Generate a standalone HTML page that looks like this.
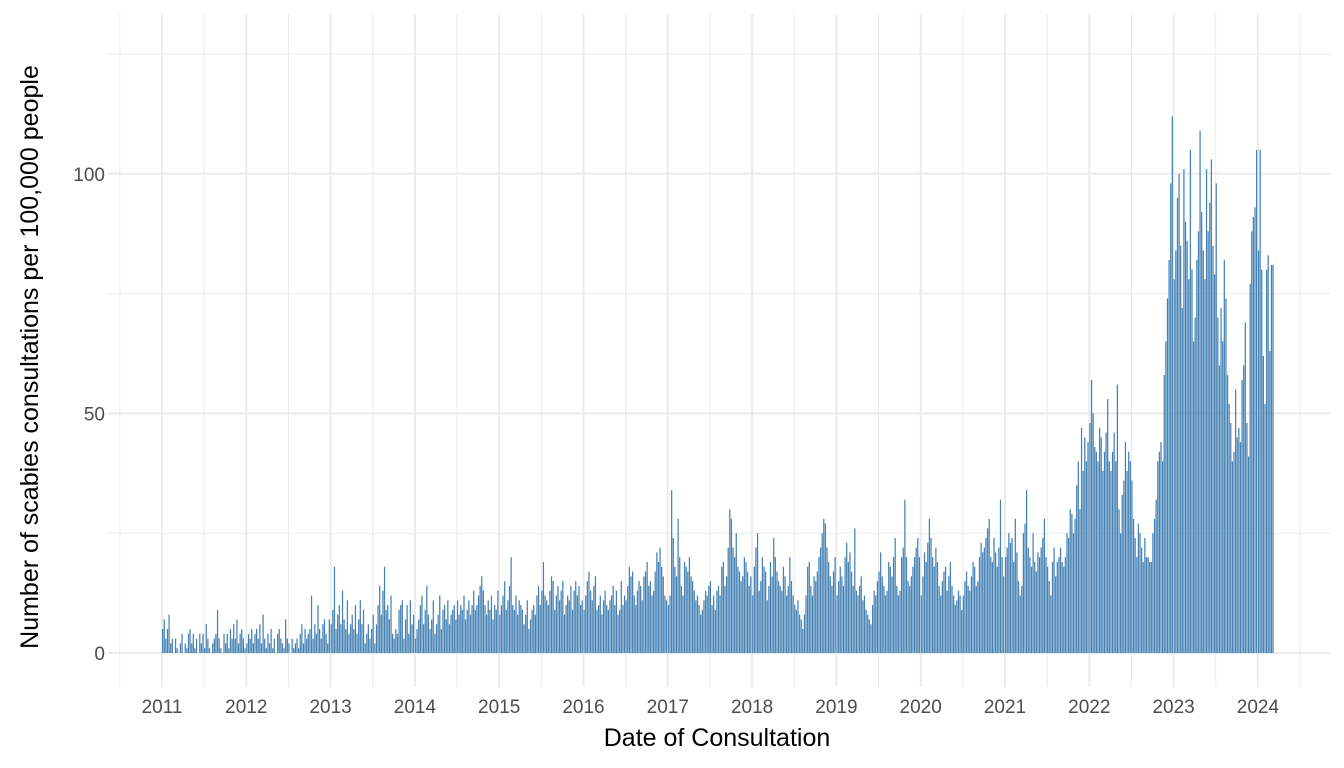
<!DOCTYPE html>
<html><head><meta charset="utf-8"><style>
html,body{margin:0;padding:0;background:#fff;}
svg{display:block;font-family:"Liberation Sans","DejaVu Sans",sans-serif;}
</style></head><body>
<svg id="chart" width="1344" height="768" viewBox="0 0 1344 768" xmlns="http://www.w3.org/2000/svg">
<g id="grid"></g>
<g id="bars"></g>
<g id="axes"></g>
<text x="717" y="746" font-size="25" text-anchor="middle" fill="#000">Date of Consultation</text>
<text transform="translate(38,357) rotate(-90)" font-size="25" text-anchor="middle" fill="#000">Number of scabies consultations per 100,000 people</text>
</svg>
<script>
const years = [2011,2012,2013,2014,2015,2016,2017,2018,2019,2020,2021,2022,2023,2024];
const yTicks = [0,50,100];
const yMinor = [25,75,125];
const v2011 = [5,7,3,5,8,2,3,0,3,1,0,2,4,0,2,1,4,5,2,4,1,3,0,4,2,4,1,6,3,1,0,2,3,4,9,3,1,0,4,2,4,1,5,3,6,3,7,2,4,5,3,1];
const v2012 = [2,4,3,5,2,4,5,3,6,2,8,3,1,4,2,5,1,3,0,4,5,3,2,1,7,3,2,0,3,1,2,3,1,4,6,2,5,3,4,5,12,3,6,4,10,5,3,6,7,4,2,7];
const v2013 = [6,9,18,5,8,10,6,13,7,5,11,4,6,8,5,10,4,7,11,6,9,2,4,6,3,5,8,2,6,10,14,8,13,18,9,10,7,12,4,3,5,4,9,10,11,3,7,10,4,11,6,8];
const v2014 = [3,5,7,10,12,6,9,14,8,5,7,11,4,6,8,12,5,9,10,7,11,6,8,9,10,7,11,8,10,9,12,7,9,11,8,10,13,9,10,12,14,16,13,10,8,11,9,12,7,10,9,13];
const v2015 = [8,10,12,15,9,11,14,20,10,9,12,8,11,10,9,6,8,11,5,7,9,10,8,12,14,10,13,19,12,11,10,13,16,15,9,12,14,11,13,15,8,10,12,11,14,9,13,15,12,14,10,11];
const v2016 = [9,12,15,17,13,11,14,16,9,10,12,8,11,13,10,9,11,12,14,10,13,8,9,15,10,12,11,14,18,16,17,12,10,13,15,14,11,16,17,19,14,15,12,13,17,21,19,22,18,16,12,11];
const v2017 = [10,12,34,24,18,16,28,20,14,12,19,18,17,20,16,15,13,11,12,10,8,9,11,13,12,14,15,10,12,9,13,14,12,18,19,14,16,22,30,28,22,20,25,18,17,15,16,20,19,17,14,16];
const v2018 = [12,18,22,25,13,15,20,18,17,11,14,19,16,24,20,17,15,14,13,18,16,12,14,20,15,12,10,9,11,8,7,5,8,12,18,19,14,12,16,15,17,20,22,25,28,27,22,19,16,14,17,20];
const v2019 = [12,15,18,16,14,20,23,19,21,17,14,26,13,12,14,16,11,12,9,8,7,6,10,13,12,15,17,21,16,14,12,13,19,18,16,20,24,14,12,13,20,22,32,20,15,14,16,18,20,22,24,20];
const v2020 = [12,16,21,19,23,28,24,20,18,22,19,14,12,15,17,18,13,16,19,14,12,10,11,13,12,9,12,15,17,14,13,16,19,18,14,15,20,23,21,22,24,26,28,20,19,24,21,18,22,32,20,16];
const v2021 = [20,22,25,23,24,19,28,21,15,12,14,25,27,34,22,20,18,25,19,17,21,20,22,24,28,20,18,15,12,19,22,16,19,20,22,19,18,20,25,24,30,29,25,28,35,40,30,47,38,45,40,44];
const v2022 = [48,57,50,43,42,40,47,45,38,42,46,53,40,38,42,46,40,56,30,25,33,36,44,38,42,40,36,28,24,20,27,25,22,19,24,20,20,19,19,25,28,32,40,42,44,40,58,65,74,82,98,112];
const v2023 = [78,84,95,100,85,72,101,90,86,78,105,80,65,70,82,88,109,92,84,78,101,88,94,103,85,79,98,70,60,72,65,82,74,58,52,48,40,42,55,45,47,44,57,60,69,48,41,77,88,91,93,105];
const v2024 = [84,105,80,62,52,80,83,63,81,81];
const series = [v2011,v2012,v2013,v2014,v2015,v2016,v2017,v2018,v2019,v2020,v2021,v2022,v2023,v2024];

const NS = "http://www.w3.org/2000/svg";
const X0 = 162, PXY = 84.3, Y0 = 653, PXV = 4.792;
const L = 108, R = 1330, T = 14, B = 687;
const xs = yr => X0 + (yr - 2011) * PXY;
const ys = v => Y0 - v * PXV;
function mk(tag, attrs, parent){ const e=document.createElementNS(NS,tag); for(const k in attrs) e.setAttribute(k,attrs[k]); parent.appendChild(e); return e; }

const grid = document.getElementById('grid');
yMinor.forEach(v=>{ const l=mk('line',{x1:L,x2:R,y1:ys(v),y2:ys(v),stroke:'#EBEBEB','stroke-width':1},grid);
    });
years.concat([2025]).forEach(y=>{ const l=mk('line',{x1:xs(y-0.5),x2:xs(y-0.5),y1:T,y2:B,stroke:'#EBEBEB','stroke-width':1},grid);
    });
yTicks.forEach(v=>{ const l=mk('line',{x1:L,x2:R,y1:ys(v),y2:ys(v),stroke:'#EBEBEB','stroke-width':2},grid);
    });
years.forEach(y=>{ const l=mk('line',{x1:xs(y),x2:xs(y),y1:T,y2:B,stroke:'#EBEBEB','stroke-width':2},grid);
    });

const bars = document.getElementById('bars');
series.forEach((arr,yi)=>{
  const yr = years[yi];
  arr.forEach((v,j)=>{
    const x = xs(yr + j/52.18);
    const r = mk('rect',{x:x.toFixed(2),y:ys(v).toFixed(2),width:1.25,height:(v*PXV).toFixed(2),fill:'#4682B4'},bars);
    
    
  });
});

const axes = document.getElementById('axes');
yTicks.forEach(v=>{ const t=mk('text',{x:105,y:ys(v)+7,'font-size':19,'text-anchor':'end',fill:'#4D4D4D'},axes); t.textContent=v;
    });
years.forEach(y=>{ const t=mk('text',{x:xs(y),y:713,'font-size':19,'text-anchor':'middle',fill:'#4D4D4D'},axes); t.textContent=y;
    });
</script>
</body></html>
